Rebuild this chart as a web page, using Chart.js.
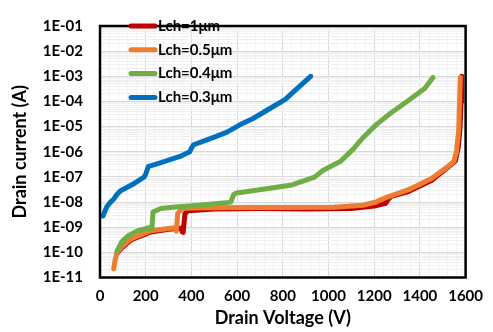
<!DOCTYPE html>
<html lang="en">
<head>
  <meta charset="UTF-8" />
  <title>Drain current vs drain voltage</title>
  <style>
    body {
      margin: 0;
      padding: 0;
      background: #ffffff;
    }
    .wrap {
      width: 493px;
      height: 332px;
    }
  </style>
</head>
<body>
  <div class="wrap">
    <canvas id="grafico" width="493" height="332"></canvas>
  </div>

  <script src="https://cdn.jsdelivr.net/npm/chart.js"></script>
  <script>
    // axis ticks
    const xTickLabels = [0, 200, 400, 600, 800, 1000, 1200, 1400, 1600];
    const yTickLabels = ['1E-11', '1E-10', '1E-09', '1E-08', '1E-07', '1E-06', '1E-05', '1E-04', '1E-03', '1E-02', '1E-01'];

    const seriesNames = ['Lch=1μm', 'Lch=0.5μm', 'Lch=0.4μm', 'Lch=0.3μm'];
    const seriesColors = ['#c00000', '#ed7d31', '#70ad47', '#0070c0'];

    // Lch = 1um
    const v1 = [74, 95, 138, 223, 300, 355, 360, 364, 368, 372, 386, 500, 700, 900, 1100, 1200, 1240, 1250, 1262, 1275, 1350, 1450, 1520, 1555, 1568, 1576, 1580, 1583];
    const i1 = [9e-11, 1.5e-10, 3.2e-10, 6.5e-10, 8.3e-10, 9e-10, 6.5e-10, 6.2e-10, 1.5e-9, 3.5e-9, 4.5e-9, 5.3e-9, 5.5e-9, 5.3e-9, 5.5e-9, 7e-9, 8.5e-9, 8.8e-9, 1.3e-8, 1.7e-8, 2.6e-8, 7.2e-8, 2.3e-7, 4.3e-7, 1.5e-6, 1e-5, 1e-4, 1e-3];

    // Lch = 0.5um
    const v05 = [60, 66, 74, 95, 138, 223, 300, 329, 334, 340, 358, 406, 500, 663, 800, 1024, 1150, 1209, 1225, 1251, 1351, 1449, 1521, 1549, 1560, 1570, 1574, 1577];
    const i05 = [2.2e-11, 5e-11, 9.4e-11, 1.7e-10, 3.5e-10, 7.2e-10, 8.8e-10, 9.5e-10, 7e-10, 3.5e-9, 5.5e-9, 5.8e-9, 6e-9, 6.1e-9, 6.1e-9, 6.2e-9, 7.5e-9, 1e-8, 1.2e-8, 1.5e-8, 3.1e-8, 8.5e-8, 2.5e-7, 4.2e-7, 1e-6, 7.6e-6, 1.4e-4, 9e-4];

    // Lch = 0.4um
    const v04 = [74, 95, 123, 166, 215, 222, 227, 232, 266, 330, 406, 480, 563, 572, 585, 599, 698, 840, 939, 975, 1053, 1109, 1152, 1209, 1270, 1336, 1421, 1457];
    const i04 = [1.1e-10, 2.6e-10, 4.6e-10, 7.2e-10, 9.5e-10, 9.8e-10, 8.5e-10, 4e-9, 5.5e-9, 6.3e-9, 7.2e-9, 8.2e-9, 9.7e-9, 1e-8, 2e-8, 2.3e-8, 3.1e-8, 4.8e-8, 9.8e-8, 1.8e-7, 4.2e-7, 1.3e-6, 3.7e-6, 1.2e-5, 3.3e-5, 8.9e-5, 3.3e-4, 9e-4];

    // Lch = 0.3um
    const v03 = [13, 30, 45, 60, 74, 90, 117, 150, 194, 200, 212, 250, 300, 350, 393, 400, 410, 450, 500, 556, 614, 670, 740, 811, 860, 922];
    const i03 = [2.8e-9, 6.5e-9, 9.7e-9, 1.3e-8, 2e-8, 2.8e-8, 3.8e-8, 5.5e-8, 1e-7, 1.3e-7, 2.6e-7, 3.3e-7, 4.6e-7, 6.5e-7, 1e-6, 1.4e-6, 1.9e-6, 2.6e-6, 3.8e-6, 6e-6, 1.2e-5, 2.1e-5, 5e-5, 1.2e-4, 3.1e-4, 1e-3];

    const voltages = [v1, v05, v04, v03];
    const currents = [i1, i05, i04, i03];

    const FONT = 'Lato, "Open Sans", Arial, sans-serif';

    const decades = yTickLabels.map(t => parseFloat(t));

    function isDecade(v) {
      const e = Math.round(Math.log10(v));
      return Math.abs(v / Math.pow(10, e) - 1) < 1e-6;
    }

    // thick frame around the plot area
    const framePlugin = {
      id: 'frame',
      afterDraw(chart) {
        const a = chart.chartArea;
        const c = chart.ctx;
        c.save();
        c.strokeStyle = '#000000';
        c.lineWidth = 2.5;
        c.strokeRect(a.left, a.top, a.right - a.left, a.bottom - a.top);
        c.restore();
      }
    };

    // legend drawn inside the plot, stacked
    const innerLegend = {
      id: 'innerLegend',
      afterDraw(chart) {
        const c = chart.ctx;
        c.save();
        c.font = 'bold 15px ' + FONT;
        c.textAlign = 'left';
        c.textBaseline = 'middle';
        chart.data.datasets.forEach((ds, k) => {
          const y = 26 + k * 23.8;
          c.strokeStyle = ds.borderColor;
          c.lineWidth = 5;
          c.lineCap = 'round';
          c.beginPath();
          c.moveTo(131, y);
          c.lineTo(155, y);
          c.stroke();
          c.fillStyle = '#000000';
          c.fillText(ds.label, 158, y);
        });
        c.restore();
      }
    };

    const ctx = document.getElementById('grafico').getContext('2d');

    const chart = new Chart(ctx, {
      type: 'line',
      data: {
        datasets: seriesNames.map((name, k) => ({
          label: name,
          data: voltages[k].map((v, j) => ({ x: v, y: currents[k][j] })),
          borderColor: seriesColors[k],
          backgroundColor: seriesColors[k],
          borderWidth: 5,
          borderJoinStyle: 'round',
          borderCapStyle: 'round',
          pointRadius: 0,
          tension: 0,
          fill: false,
          order: 4 - k
        }))
      },
      options: {
        responsive: false,
        animation: false,
        devicePixelRatio: 1,
        layout: {
          padding: { left: 0, right: 17, top: 12, bottom: 0 }
        },
        plugins: {
          legend: { display: false },
          tooltip: { enabled: false }
        },
        scales: {
          x: {
            type: 'linear',
            min: xTickLabels[0],
            max: xTickLabels[xTickLabels.length - 1],
            afterBuildTicks: scale => {
              const ticks = [];
              for (let v = xTickLabels[0]; v <= xTickLabels[xTickLabels.length - 1]; v += 40) {
                ticks.push({ value: v });
              }
              scale.ticks = ticks;
            },
            afterFit: scale => { scale.height = 54.5; },
            border: { display: false },
            grid: {
              drawTicks: false,
              color: c => (xTickLabels.includes(c.tick.value) ? '#d9d9d9' : '#f2f2f2'),
              lineWidth: 1
            },
            ticks: {
              autoSkip: false,
              maxRotation: 0,
              padding: 10,
              color: '#000000',
              font: { family: FONT, size: 15, weight: 'bold' },
              callback: v => (xTickLabels.includes(v) ? String(v) : '')
            },
            title: {
              display: true,
              text: 'Drain Voltage (V)',
              color: '#000000',
              font: { family: FONT, size: 18, weight: 'bold' },
              padding: { top: 0, bottom: 3 }
            }
          },
          y: {
            type: 'logarithmic',
            min: decades[0],
            max: decades[decades.length - 1],
            afterBuildTicks: scale => {
              const ticks = [];
              for (let d = 0; d < decades.length; d++) {
                ticks.push({ value: decades[d] });
                if (d < decades.length - 1) {
                  for (let m = 2; m <= 9; m++) ticks.push({ value: m * decades[d] });
                }
              }
              scale.ticks = ticks;
            },
            afterFit: scale => { scale.width = 100; },
            border: { display: false },
            grid: {
              drawTicks: false,
              color: c => (isDecade(c.tick.value) ? '#d9d9d9' : '#f0f0f0'),
              lineWidth: 1
            },
            ticks: {
              autoSkip: false,
              padding: 17,
              color: '#000000',
              font: { family: FONT, size: 15, weight: 'bold' },
              callback: v => {
                if (!isDecade(v)) return '';
                const e = Math.round(Math.log10(v));
                return yTickLabels[decades.findIndex(d => Math.round(Math.log10(d)) === e)];
              }
            },
            title: {
              display: true,
              text: 'Drain current (A)',
              color: '#000000',
              font: { family: FONT, size: 18, weight: 'bold' },
              padding: { top: 9, bottom: 0 }
            }
          }
        }
      },
      plugins: [framePlugin, innerLegend]
    });
  </script>
</body>
</html>
